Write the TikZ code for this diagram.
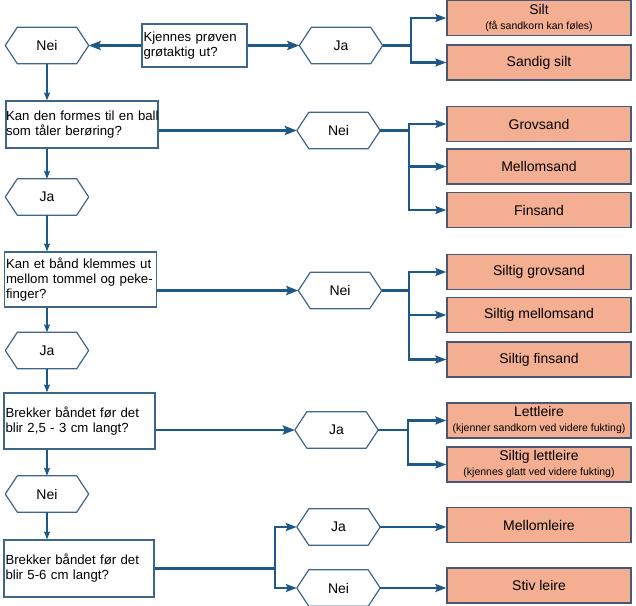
\documentclass[tikz,border=0pt]{standalone}
\usepackage{fontspec}
\setmainfont{Liberation Sans}
\usetikzlibrary{positioning, arrows.meta}
\definecolor{linkblue}{RGB}{30,88,135}
\definecolor{qline}{RGB}{62,102,138}
\definecolor{boxline}{RGB}{72,88,118}
\definecolor{soil}{RGB}{244,174,146}
\newcommand{\soilnote}[1]{{\fontsize{10.5}{11}\selectfont #1}}
\tikzstyle{question}=[draw=qline, line width=1.2pt, align=left, inner sep=1pt, font=\fontsize{13.2}{15}\selectfont]
\tikzstyle{answer}=[minimum width=83pt, minimum height=36pt, inner sep=0pt, font=\fontsize{14}{16}\selectfont]
\tikzstyle{soil type}=[draw=boxline, line width=1.4pt, fill=soil, minimum width=184pt, minimum height=35pt, inner sep=1pt, align=center, font=\fontsize{14}{15}\selectfont]
\tikzstyle{main arrow}=[draw=linkblue, line width=2.6pt, -{Stealth[length=12pt,width=9pt,inset=2pt]}]
\tikzstyle{down arrow}=[draw=linkblue, line width=1.6pt, -{Stealth[length=8pt,width=6pt,inset=1.5pt]}]
\tikzstyle{branch}=[draw=linkblue, line width=2.4pt]
\tikzstyle{branch arrow}=[branch, -{Stealth[length=11pt,width=8pt,inset=2pt]}]

\begin{document}
\begin{tikzpicture}[x=1pt, y=-1pt]
\useasboundingbox (0,0) rectangle (636,605);

			% Draw the questions
			\node[question, minimum width=105pt, minimum height=43pt, text width=102pt] (q1) at (194.5,45.5) {Kjennes prøven\\grøtaktig ut?};
			\node[question, inner sep=0pt, minimum width=152pt, minimum height=47pt, text width=152pt] (q2) at (82,124.5) {\mbox{Kan den formes til en ball}\\som tåler berøring?};
			\node[question, minimum width=152pt, minimum height=55pt, text width=149pt] (q3) at (80.5,279.5) {Kan et bånd klemmes ut\\mellom tommel og peke-\\finger?};
			\node[question, minimum width=151pt, minimum height=56pt, text width=148pt] (q4) at (79.5,421) {Brekker båndet før det\\blir 2,5 - 3 cm langt?};
			\node[question, minimum width=150pt, minimum height=57pt, text width=147pt] (q5) at (79,568.5) {Brekker båndet før det\\blir 5-6 cm langt?};

			% Draw the answers
			\foreach \name / \x / \y / \txt in {nei1/47/45.5/Nei, ja2/47/197/Ja, ja3/47/350.5/Ja, nei4/47/494/Nei,
				ja1/341/45.5/Ja, nei2/338.5/130.5/Nei, nei3/340/290.5/Nei, ja4/336.5/430/Ja, ja5/338.5/527/Ja, nei5/338.5/588/Nei}
			\node[answer] (\name) at (\x,\y) {\txt};

			% Hexagon outline round every answer
			\foreach \h in {nei1, ja2, ja3, nei4, ja1, nei2, nei3, ja4, ja5, nei5}
			\draw[qline, line width=1.2pt, line join=round] (\h.west) -- ([xshift=12pt]\h.north west) -- ([xshift=-12pt]\h.north east)
				-- (\h.east) -- ([xshift=-12pt]\h.south east) -- ([xshift=12pt]\h.south west) -- cycle;

			% Draw the soil types
			\foreach \name / \y / \txt in {silt/18/{Silt\\\soilnote{(få sandkorn kan føles)}}, sandigsilt/62.5/{Sandig silt},
				grovsand/124/Grovsand, mellomsand/166.5/Mellomsand, finsand/210/Finsand,
				siltiggrov/272/{Siltig grovsand}, siltigmellom/315/{Siltig mellomsand}, siltigfin/359.5/{Siltig finsand},
				lettleire/420.5/{Lettleire\\\soilnote{(kjenner sandkorn ved videre fukting)}},
				siltiglett/464.5/{Siltig lettleire\\\soilnote{(kjennes glatt ved videre fukting)}},
				mellomleire/525/Mellomleire, stivleire/585.5/{Stiv leire}}
			\node[soil type] (\name) at (539,\y) {\txt};

			% Branch points
			\coordinate (b1) at (411,45.5);
			\coordinate (b2) at (409,130.5);
			\coordinate (b3) at (409,290.5);
			\coordinate (b4) at (408,430);
			\coordinate (b5) at (275,568.5);

			% Questions to answers
			\path[main arrow] (q1.west) -- (nei1.east);
			\path[main arrow] (q1.east) -- (ja1.west);
			\path[main arrow] (q2.east |- nei2.west) -- (nei2.west);
			\path[main arrow] (q3.east |- nei3.west) -- (nei3.west);
			\path[main arrow] (q4.east |- ja4.west) -- (ja4.west);
			\path[branch] (q5.east |- b5) -- (b5);
			\path[branch arrow] (b5) |- (ja5.west);
			\path[branch arrow] (b5) |- (nei5.west);

			% Down the left column
			\path[down arrow] (nei1.south) -- (nei1.south |- q2.north);
			\path[down arrow] (q2.south -| ja2.north) -- (ja2.north);
			\path[down arrow] (ja2.south) -- (ja2.south |- q3.north);
			\path[down arrow] (q3.south -| ja3.north) -- (ja3.north);
			\path[down arrow] (ja3.south) -- (ja3.south |- q4.north);
			\path[down arrow] (q4.south -| nei4.north) -- (nei4.north);
			\path[down arrow] (nei4.south) -- (nei4.south |- q5.north);

			% Answers to soil types
			\path[branch] (ja1.east) -- (b1);
			\foreach \dest in {silt, sandigsilt}
			\path[branch arrow] (b1) |- (\dest.west);
			\path[branch] (nei2.east) -- (b2);
			\foreach \dest in {grovsand, mellomsand, finsand}
			\path[branch arrow] (b2) |- (\dest.west);
			\path[branch] (nei3.east) -- (b3);
			\foreach \dest in {siltiggrov, siltigmellom, siltigfin}
			\path[branch arrow] (b3) |- (\dest.west);
			\path[branch] (ja4.east) -- (b4);
			\foreach \dest in {lettleire, siltiglett}
			\path[branch arrow] (b4) |- (\dest.west);
			\path[branch arrow] (ja5.east) -- (ja5.east -| mellomleire.west);
			\path[branch arrow] (nei5.east) -- (nei5.east -| stivleire.west);
\end{tikzpicture}
\end{document}
